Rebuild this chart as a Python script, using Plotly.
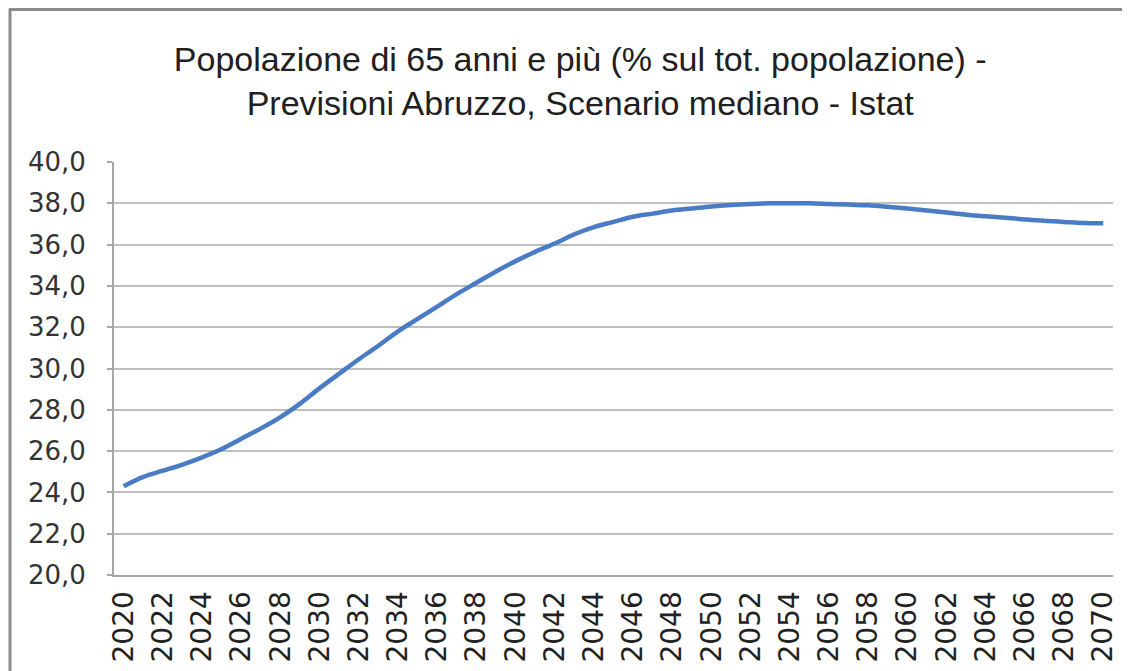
import plotly.graph_objects as go

years = list(range(2020, 2071))
values = [
    24.3, 24.75, 25.05, 25.35, 25.7, 26.1, 26.6, 27.1, 27.65, 28.3,
    29.05, 29.75, 30.45, 31.1, 31.8, 32.4, 33.0, 33.6, 34.15, 34.7,
    35.2, 35.65, 36.05, 36.5, 36.85, 37.1, 37.35, 37.5, 37.65, 37.75,
    37.85, 37.92, 37.97, 38.0, 38.0, 38.0, 37.97, 37.94, 37.9, 37.83,
    37.75, 37.65, 37.55, 37.45, 37.37, 37.3, 37.22, 37.15, 37.1, 37.05,
    37.03,
]
tick_years = [str(y) for y in range(2020, 2071, 2)]
y_ticks = [20, 22, 24, 26, 28, 30, 32, 34, 36, 38, 40]
y_labels = [f"{v},0" for v in y_ticks]
title_text = ("Popolazione di 65 anni e più (% sul tot. popolazione) -<br>"
              "Previsioni Abruzzo, Scenario mediano - Istat")

# page has an 8px body margin, so the figure is drawn 8px smaller
W, H = 1122, 663
L, R, T, B = 106, 17, 154, 96

fig = go.Figure()
fig.add_trace(go.Scatter(
    x=[str(y) for y in years], y=values, mode="lines",
    line=dict(color="#4A7CC6", width=4.5, shape="spline", smoothing=1.0),
    hoverinfo="x+y", showlegend=False,
))

pw, ph = W - L - R, H - T - B
def px_to_paper_x(px):
    return (px - L) / pw
def px_to_paper_y(py):
    return (H - B - py) / ph

fig.update_layout(
    width=W, height=H,
    margin=dict(l=L, r=R, t=T, b=B, autoexpand=False),
    paper_bgcolor="white", plot_bgcolor="white",
    title=dict(text=title_text, x=0.510, xanchor="center", y=0.905, yanchor="middle",
               font=dict(family="Liberation Sans", size=34, color="#202020")),
    xaxis=dict(
        type="category", tickmode="array", tickvals=tick_years, ticktext=tick_years,
        tickangle=-90, tickfont=dict(family="DejaVu Sans", size=28, color="#222222"),
        showgrid=False, showline=True, linecolor="#A6A6A6", linewidth=2,
        ticks="", ticklabelstandoff=3, automargin=False,
        range=[-0.5, len(years) - 0.5],
    ),
    yaxis=dict(
        range=[20, 40], tickmode="array", tickvals=y_ticks, ticktext=y_labels,
        tickfont=dict(family="DejaVu Sans", size=26, color="#333333"),
        showgrid=True, gridcolor="#BFBFBF", gridwidth=2,
        showline=True, linecolor="#A6A6A6", linewidth=2,
        ticks="outside", ticklen=5, tickcolor="#A6A6A6", tickwidth=2,
        ticklabelstandoff=16, zeroline=False, automargin=False,
    ),
    shapes=[
        dict(type="line", xref="paper", yref="paper",
             x0=px_to_paper_x(1), x1=px_to_paper_x(1125),
             y0=px_to_paper_y(1.5), y1=px_to_paper_y(1.5),
             line=dict(color="#8C8C8C", width=3)),
        dict(type="line", xref="paper", yref="paper",
             x0=px_to_paper_x(2), x1=px_to_paper_x(2),
             y0=px_to_paper_y(1), y1=px_to_paper_y(680),
             line=dict(color="#8C8C8C", width=3)),
    ],
)

fig.write_html("out.html")
